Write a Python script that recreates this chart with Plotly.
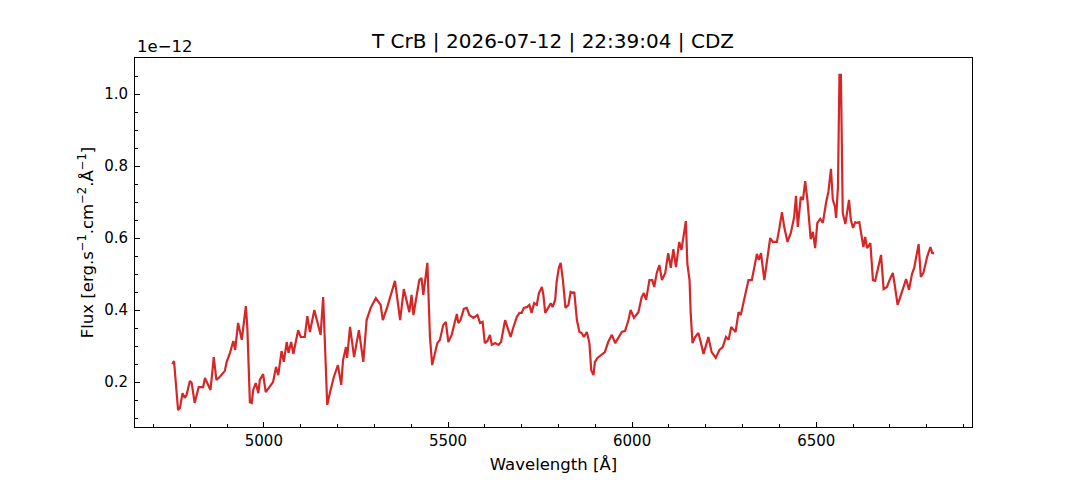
import plotly.graph_objects as go

# spectrum (flux in units of 1e-12 erg/s/cm2/A)
wavelength = [
    4751, 4756, 4767, 4772, 4779, 4785, 4790, 4799, 4804, 4812,
    4823, 4835, 4840, 4855, 4864, 4871, 4880, 4894, 4899, 4908,
    4917, 4922, 4930, 4940, 4951, 4955, 4962, 4967, 4971, 4978,
    4985, 4989, 4998, 5005, 5025, 5033, 5039, 5048, 5054, 5062,
    5067, 5074, 5080, 5086, 5093, 5100, 5111, 5118, 5125, 5137,
    5148, 5154, 5161, 5172, 5179, 5190, 5201, 5210, 5215, 5223,
    5226, 5234, 5245, 5258, 5270, 5279, 5290, 5304, 5317, 5323,
    5335, 5356, 5370, 5380, 5395, 5401, 5406, 5417, 5422, 5428,
    5433, 5444, 5451, 5457, 5465, 5471, 5478, 5487, 5494, 5501,
    5510, 5524, 5528, 5534, 5543, 5551, 5558, 5569, 5580, 5587,
    5594, 5600, 5607, 5614, 5619, 5628, 5637, 5644, 5655, 5661,
    5670, 5677, 5687, 5694, 5700, 5706, 5714, 5721, 5727, 5734,
    5741, 5747, 5755, 5759, 5764, 5772, 5779, 5784, 5791, 5795,
    5801, 5806, 5812, 5819, 5827, 5833, 5839, 5843, 5850, 5857,
    5863, 5869, 5877, 5884, 5889, 5895, 5899, 5906, 5915, 5926,
    5935, 5945, 5954, 5963, 5972, 5981, 5990, 5996, 6005, 6017,
    6026, 6032, 6038, 6047, 6055, 6060, 6067, 6074, 6081, 6090,
    6098, 6105, 6112, 6119, 6128, 6134, 6139, 6146, 6150, 6156,
    6159, 6164, 6171, 6180, 6187, 6194, 6207, 6216, 6227, 6237,
    6246, 6255, 6262, 6269, 6281, 6289, 6295, 6302, 6310, 6316,
    6325, 6332, 6339, 6344, 6350, 6359, 6366, 6375, 6382, 6393,
    6399, 6407, 6413, 6422, 6431, 6440, 6445, 6450, 6458, 6464,
    6470, 6476, 6485, 6491, 6497, 6503, 6511, 6518, 6527, 6533,
    6540, 6545, 6551, 6554, 6559, 6563, 6567, 6572, 6579, 6589,
    6594, 6600, 6606, 6610, 6617, 6624, 6628, 6633, 6638, 6647,
    6654, 6660, 6666, 6676, 6683, 6692, 6699, 6708, 6714, 6721,
    6728, 6737, 6744, 6752, 6760, 6766, 6778, 6784, 6791, 6801,
    6810, 6815, 6820,
]
flux = [
    0.250, 0.258, 0.122, 0.128, 0.169, 0.156, 0.164, 0.203, 0.197, 0.142,
    0.186, 0.186, 0.211, 0.178, 0.269, 0.206, 0.214, 0.231, 0.256, 0.281,
    0.314, 0.289, 0.364, 0.317, 0.411, 0.353, 0.144, 0.142, 0.178, 0.197,
    0.169, 0.206, 0.222, 0.172, 0.200, 0.242, 0.219, 0.286, 0.256, 0.311,
    0.281, 0.311, 0.278, 0.311, 0.344, 0.325, 0.325, 0.383, 0.339, 0.400,
    0.353, 0.331, 0.436, 0.136, 0.169, 0.214, 0.247, 0.192, 0.261, 0.297,
    0.267, 0.353, 0.269, 0.344, 0.256, 0.372, 0.406, 0.433, 0.414, 0.372,
    0.408, 0.481, 0.372, 0.458, 0.394, 0.442, 0.386, 0.456, 0.483, 0.489,
    0.442, 0.531, 0.325, 0.247, 0.281, 0.308, 0.317, 0.358, 0.367, 0.311,
    0.331, 0.389, 0.364, 0.372, 0.403, 0.406, 0.386, 0.378, 0.386, 0.364,
    0.367, 0.308, 0.314, 0.331, 0.303, 0.308, 0.303, 0.311, 0.372, 0.353,
    0.325, 0.350, 0.381, 0.392, 0.392, 0.406, 0.408, 0.414, 0.392, 0.419,
    0.414, 0.447, 0.464, 0.442, 0.392, 0.406, 0.419, 0.408, 0.428, 0.478,
    0.517, 0.531, 0.483, 0.406, 0.414, 0.450, 0.447, 0.450, 0.372, 0.339,
    0.336, 0.325, 0.339, 0.308, 0.233, 0.219, 0.256, 0.267, 0.275, 0.283,
    0.311, 0.331, 0.308, 0.325, 0.339, 0.342, 0.372, 0.400, 0.378, 0.394,
    0.436, 0.447, 0.428, 0.483, 0.483, 0.464, 0.503, 0.525, 0.483, 0.503,
    0.558, 0.517, 0.569, 0.519, 0.589, 0.567, 0.603, 0.647, 0.528, 0.483,
    0.392, 0.308, 0.325, 0.336, 0.308, 0.278, 0.325, 0.283, 0.267, 0.289,
    0.297, 0.325, 0.317, 0.353, 0.339, 0.394, 0.386, 0.419, 0.461, 0.483,
    0.483, 0.519, 0.556, 0.539, 0.558, 0.483, 0.539, 0.600, 0.589, 0.589,
    0.622, 0.672, 0.631, 0.589, 0.614, 0.658, 0.717, 0.631, 0.714, 0.706,
    0.758, 0.706, 0.597, 0.617, 0.572, 0.642, 0.653, 0.642, 0.700, 0.728,
    0.792, 0.706, 0.686, 0.656, 0.742, 1.053, 1.053, 0.669, 0.639, 0.706,
    0.650, 0.628, 0.644, 0.642, 0.644, 0.603, 0.575, 0.603, 0.572, 0.586,
    0.483, 0.481, 0.511, 0.553, 0.458, 0.464, 0.483, 0.503, 0.464, 0.414,
    0.436, 0.464, 0.486, 0.456, 0.500, 0.517, 0.583, 0.492, 0.503, 0.547,
    0.575, 0.558, 0.558,
]

font = "DejaVu Sans"

fig = go.Figure(go.Scatter(
    x=wavelength, y=flux, mode="lines",
    line=dict(color="#d62728", width=2.2),
    showlegend=False,
))

axis_style = dict(
    showline=True, linecolor="black", linewidth=1, mirror=True,
    showgrid=False, zeroline=False,
    ticks="inside", ticklen=5, tickwidth=1, tickcolor="black",
    tickfont=dict(family=font, size=15, color="black"),
)

# the page body adds an 8px offset, margins compensate for it
fig.update_layout(
    width=1080, height=480,
    paper_bgcolor="white", plot_bgcolor="white",
    margin=dict(l=127, r=116, t=50, b=61),
    font=dict(family=font, color="black"),
    title=dict(
        text="T CrB | 2026-07-12 | 22:39:04 | CDZ",
        x=545 / 1080, xanchor="center", y=1 - 33 / 480, yanchor="middle",
        font=dict(family=font, size=20, color="black"),
    ),
    xaxis=dict(
        axis_style, range=[4650, 6923], tickvals=[5000, 5500, 6000, 6500],
        minor=dict(ticks="inside", dtick=100, tick0=0, ticklen=3, tickcolor="black"),
        title=dict(text="Wavelength [Å]", font=dict(family=font, size=16.5), standoff=9),
    ),
    yaxis=dict(
        axis_style, range=[0.075, 1.1], tickvals=[0.2, 0.4, 0.6, 0.8, 1.0],
        ticktext=["0.2", "0.4", "0.6", "0.8", "1.0"], ticklabelstandoff=3,
        minor=dict(ticks="inside", dtick=0.05, tick0=0, ticklen=3, tickcolor="black"),
        title=dict(text="Flux [erg.s<sup>−1</sup>.cm<sup>−2</sup>.Å<sup>−1</sup>]",
                   font=dict(family=font, size=16.5), standoff=6),
    ),
    annotations=[dict(
        text="1e−12", xref="paper", yref="paper", x=0, y=1,
        xanchor="left", yanchor="bottom", showarrow=False, yshift=0,
        font=dict(family=font, size=16.5, color="black"),
    )],
)

fig.write_html("out.html")
